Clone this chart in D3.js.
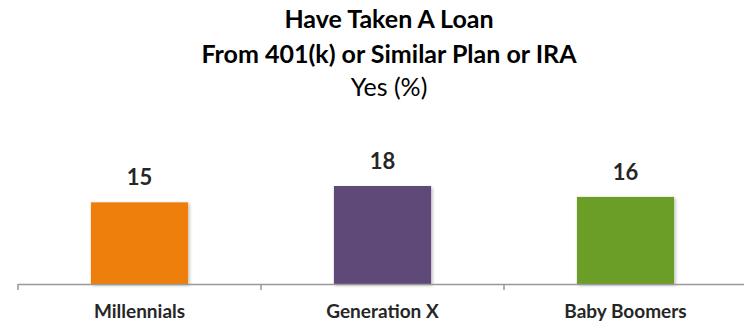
<!DOCTYPE html>
<html><head><meta charset="utf-8">
<script src="https://cdn.jsdelivr.net/npm/d3@7"></script>
<style>body{margin:0;background:#fff}svg{display:block}</style>
</head><body><div id="chart"></div>
<script>
const categories = ["Millennials", "Generation X", "Baby Boomers"];
const values = [15, 18, 16];
const colors = ["#EF7F0A", "#5F4878", "#6A9E28"];
const titleLines = ["Have Taken A Loan", "From 401(k) or Similar Plan or IRA"];
const subtitle = "Yes (%)";

const W = 744, H = 321;
const FONT = "Lato, 'Open Sans', sans-serif";
const svg = d3.select("#chart").append("svg").attr("width", W).attr("height", H);

const defs = svg.append("defs");
const f = defs.append("filter").attr("id", "sh").attr("x", "-10%").attr("y", "-10%").attr("width", "130%").attr("height", "130%");
f.append("feDropShadow").attr("dx", 1.5).attr("dy", 1.5).attr("stdDeviation", 1.5).attr("flood-color", "#000").attr("flood-opacity", 0.25);

const x = d3.scaleBand().domain(categories).range([18, 747]).paddingInner(0.6).paddingOuter(0.3);
const y = d3.scaleLinear().domain([0, 18]).range([284, 186]);

svg.selectAll("rect.bar").data(values).join("rect")
  .attr("class", "bar")
  .attr("x", (d, i) => x(categories[i]))
  .attr("width", x.bandwidth())
  .attr("y", d => y(d))
  .attr("height", d => y(0) - y(d))
  .attr("fill", (d, i) => colors[i])
  .attr("filter", "url(#sh)");

const ax = svg.append("g").attr("transform", `translate(0,${y(0)})`);
ax.append("line").attr("x1", 18).attr("x2", 747).attr("y1", 0.5).attr("y2", 0.5).attr("stroke", "#999").attr("stroke-width", 1.5);
const step = x.step();
const bounds = d3.range(categories.length + 1).map(i => 18 + i * step);
ax.selectAll("line.tk").data(bounds).join("line").attr("class", "tk")
  .attr("x1", d => d).attr("x2", d => d).attr("y1", 0).attr("y2", 6)
  .attr("stroke", "#999").attr("stroke-width", 1.5);

svg.selectAll("text.cat").data(categories).join("text").attr("class", "cat")
  .attr("x", d => x(d) + x.bandwidth() / 2).attr("y", 318)
  .attr("text-anchor", "middle").attr("font-family", FONT).attr("font-weight", 700)
  .attr("font-size", 19).attr("fill", "#262626").text(d => d);

svg.selectAll("text.val").data(values).join("text").attr("class", "val")
  .attr("x", (d, i) => x(categories[i]) + x.bandwidth() / 2).attr("y", d => y(d) - 17)
  .attr("text-anchor", "middle").attr("font-family", FONT).attr("font-weight", 700)
  .attr("font-size", 22).attr("fill", "#262626").text(d => d);

svg.selectAll("text.title").data(titleLines).join("text").attr("class", "title")
  .attr("x", 389).attr("y", (d, i) => 28 + i * 35)
  .attr("text-anchor", "middle").attr("font-family", FONT).attr("font-weight", 700)
  .attr("font-size", 25).attr("fill", "#000").text(d => d);

svg.append("text").attr("x", 389).attr("y", 96).attr("text-anchor", "middle")
  .attr("font-family", FONT).attr("font-size", 25).attr("fill", "#000").text(subtitle);
</script></body></html>
